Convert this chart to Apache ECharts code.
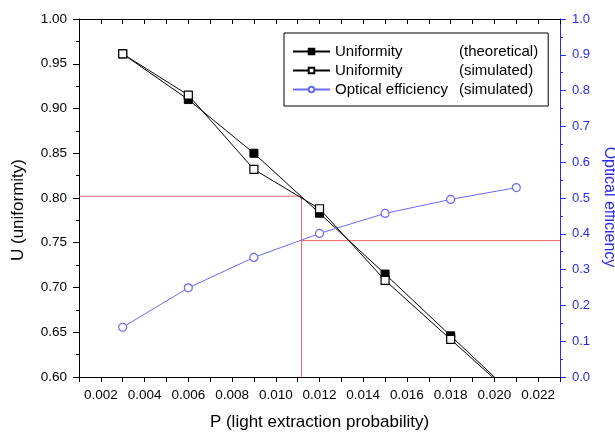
<!DOCTYPE html>
<html>
<head>
<meta charset="utf-8">
<script src="https://cdn.jsdelivr.net/npm/echarts@6/dist/echarts.min.js"></script>
<style>
    html, body { margin: 0; padding: 0; background: #fff; }
    #chart { width: 615px; height: 434px; }
</style>
</head>
<body>
<div id="chart"></div>
<script>
// light extraction probability
const pValues = [0.003, 0.006, 0.009, 0.012, 0.015, 0.018, 0.021];
// uniformity (theoretical / simulated); last point runs below the axis and is clipped
const uTheory = [0.961, 0.910, 0.850, 0.783, 0.715, 0.646, 0.577];
const uSim = [0.961, 0.915, 0.832, 0.788, 0.708, 0.642, 0.576];
// optical efficiency (simulated)
const effSim = [0.139, 0.249, 0.334, 0.401, 0.457, 0.496, 0.529];

// red guide lines
const guideP = 0.01118;
const guideU = 0.802;
const guideEff = 0.381;

const fontName = 'Liberation Sans';
const blue = '#2a2aee';

const pairs = (xs, ys) => xs.map((x, i) => [x, ys[i]]);

const xLabel = (v) => Math.round(v * 1000) % 2 === 0 ? v.toFixed(3) : '';

const chart = echarts.init(document.getElementById('chart'));

chart.setOption({
    animation: false,
    textStyle: { fontFamily: fontName },
    grid: { left: 79, right: 55, top: 19, bottom: 57, outerBoundsMode: 'none', containLabel: false },
    legend: {
        data: ['Uniformity (theoretical)', 'Uniformity (simulated)', 'Optical efficiency (simulated)'],
        orient: 'vertical',
        left: 284,
        top: 33,
        padding: [11, 10, 9, 8],
        itemWidth: 37,
        itemHeight: 7,
        itemGap: 4,
        borderColor: '#000',
        borderWidth: 1,
        borderRadius: 0,
        backgroundColor: '#fff',
        formatter: (name) => {
            const i = name.indexOf(' (');
            return '{a|' + name.slice(0, i) + '}{b|' + name.slice(i + 1) + '}';
        },
        textStyle: {
            fontFamily: fontName,
            fontSize: 15,
            color: '#000',
            rich: {
                a: { width: 124, fontSize: 15, fontFamily: fontName, lineHeight: 17 },
                b: { fontSize: 15, fontFamily: fontName, lineHeight: 17 }
            }
        }
    },
    xAxis: [{
        type: 'value',
        min: 0.001,
        max: 0.023,
        interval: 0.001,
        name: 'P (light extraction probability)',
        nameLocation: 'middle',
        nameGap: 37,
        nameTextStyle: { fontSize: 17, color: '#000', fontFamily: fontName },
        axisLine: { show: true, lineStyle: { color: '#000', width: 1 } },
        axisTick: { show: true, inside: false, length: 5, lineStyle: { color: '#000' } },
        axisLabel: { formatter: xLabel, fontSize: 13.5, color: '#000', margin: 11 },
        splitLine: { show: false }
    }, {
        type: 'value',
        position: 'top',
        min: 0.001,
        max: 0.023,
        interval: 0.001,
        axisLine: { show: true, lineStyle: { color: '#000', width: 1 } },
        axisTick: { show: true, inside: true, length: 5, lineStyle: { color: '#000' } },
        axisLabel: { show: false },
        splitLine: { show: false }
    }],
    yAxis: [{
        type: 'value',
        min: 0.6,
        max: 1.0,
        interval: 0.05,
        name: 'U (uniformity)',
        nameLocation: 'middle',
        nameGap: 52,
        nameTextStyle: { fontSize: 17, color: '#000', fontFamily: fontName, padding: [0, 24, 0, 0] },
        axisLine: { show: true, lineStyle: { color: '#000', width: 1 } },
        axisTick: { show: true, length: 6, lineStyle: { color: '#000' } },
        minorTick: { show: true, splitNumber: 2, length: 3, lineStyle: { color: '#000' } },
        axisLabel: { formatter: (v) => v.toFixed(2), fontSize: 13.5, color: '#000', margin: 12 },
        splitLine: { show: false }
    }, {
        type: 'value',
        position: 'right',
        min: 0,
        max: 1.0,
        interval: 0.1,
        name: 'Optical efficiency',
        nameLocation: 'middle',
        nameGap: 39,
        nameRotate: -90,
        nameTextStyle: { fontSize: 16, color: blue, fontFamily: fontName, padding: [0, 0, 0, 18] },
        axisLine: { show: true, lineStyle: { color: blue, width: 1 } },
        axisTick: { show: true, length: 6, lineStyle: { color: blue } },
        minorTick: { show: true, splitNumber: 2, length: 3, lineStyle: { color: blue } },
        axisLabel: { formatter: (v) => v.toFixed(1), fontSize: 13, color: blue, margin: 12 },
        splitLine: { show: false }
    }],
    series: [{
        name: 'guide-left',
        type: 'line',
        silent: true,
        symbol: 'none',
        lineStyle: { color: '#e66', width: 1 },
        data: [[0.001, guideU], [guideP, guideU], [guideP, 0.6]],
        z: 1
    }, {
        name: 'guide-right',
        type: 'line',
        silent: true,
        symbol: 'none',
        yAxisIndex: 1,
        lineStyle: { color: '#e66', width: 1 },
        data: [[guideP, guideEff], [0.023, guideEff]],
        z: 1
    }, {
        name: 'Uniformity (theoretical)',
        type: 'line',
        clip: true,
        symbol: 'rect',
        symbolSize: 8,
        itemStyle: { color: '#000', borderColor: '#000', borderWidth: 1 },
        lineStyle: { color: '#000', width: 1 },
        data: pairs(pValues, uTheory),
        z: 3
    }, {
        name: 'Uniformity (simulated)',
        type: 'line',
        clip: true,
        symbol: 'rect',
        symbolSize: 8,
        itemStyle: { color: '#fff', borderColor: '#000', borderWidth: 1.2 },
        lineStyle: { color: '#000', width: 1 },
        data: pairs(pValues, uSim),
        z: 4
    }, {
        name: 'Optical efficiency (simulated)',
        type: 'line',
        yAxisIndex: 1,
        symbol: 'circle',
        symbolSize: 8,
        itemStyle: { color: '#fff', borderColor: '#6a6af0', borderWidth: 1.2 },
        lineStyle: { color: '#6a6af0', width: 1 },
        data: pairs(pValues, effSim),
        z: 3
    }]
});
</script>
</body>
</html>
